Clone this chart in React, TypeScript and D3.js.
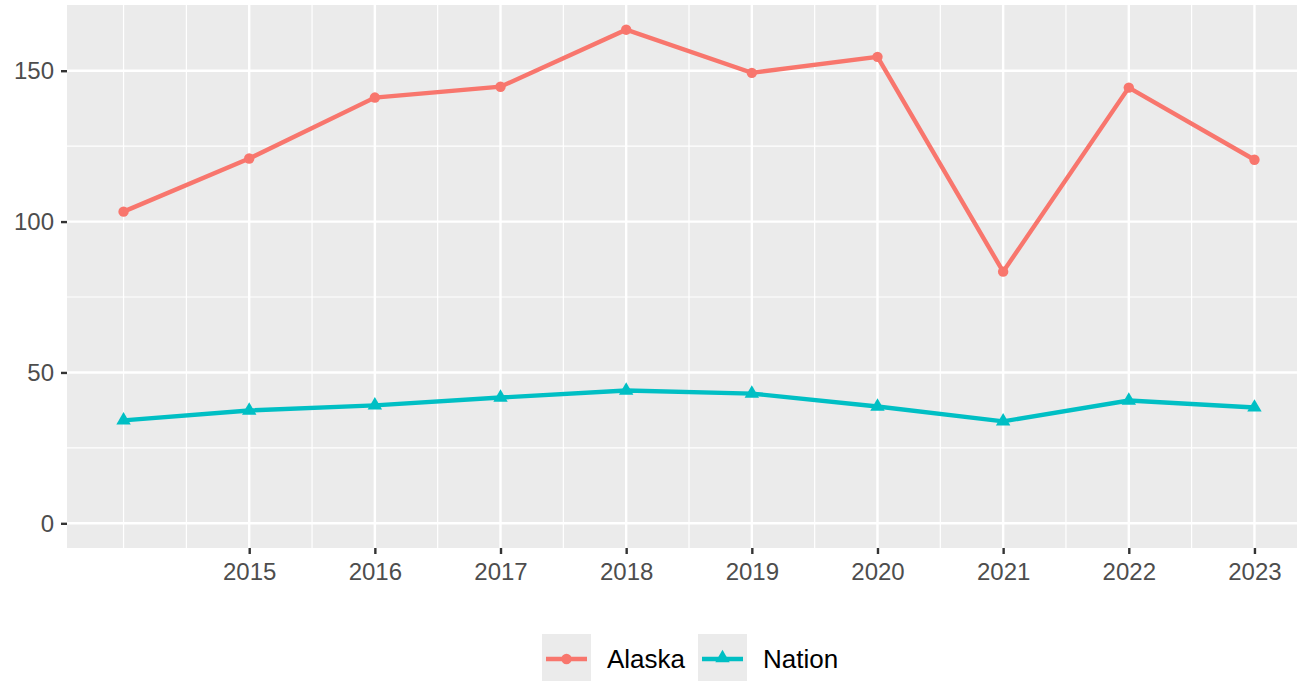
import * as d3 from "d3";
import React from "react";

const years = [2014, 2015, 2016, 2017, 2018, 2019, 2020, 2021, 2022, 2023];
const alaska = [103.3, 120.9, 141.1, 144.7, 163.6, 149.3, 154.6, 83.4, 144.4, 120.5];
const nation = [34.1, 37.4, 39.1, 41.7, 44.0, 43.0, 38.7, 33.8, 40.7, 38.4];
const xTicks = [2015, 2016, 2017, 2018, 2019, 2020, 2021, 2022, 2023];
const yTicks = [0, 50, 100, 150];
const seriesNames = ["Alaska", "Nation"];

const FONT = "'Liberation Sans', Arial, sans-serif";

const App = (): React.ReactElement => {
  const chartRef = React.useRef<SVGSVGElement>(null);

  const width = 1297;
  const height = 681;
  const panel = { left: 67, top: 5, right: 1311, bottom: 548 };

  React.useEffect(() => {
    const svg = d3.select(chartRef.current);
    svg.selectAll("*").remove();

    // ggplot-style expanded scales
    const xScale = d3
      .scaleLinear()
      .domain([2014 - 0.45, 2023 + 0.45])
      .range([panel.left, panel.right]);
    const yMax = d3.max(alaska) as number;
    const yScale = d3
      .scaleLinear()
      .domain([0 - yMax * 0.05, yMax * 1.05])
      .range([panel.bottom, panel.top]);

    svg
      .append("rect")
      .attr("x", panel.left)
      .attr("y", panel.top)
      .attr("width", panel.right - panel.left)
      .attr("height", panel.bottom - panel.top)
      .attr("fill", "#EBEBEB");

    const grid = svg.append("g");

    // minor grid
    const xMinor = d3.range(2013.5, 2024, 0.5).filter((v) => !xTicks.includes(v));
    const yMinor = [25, 75, 125];
    grid
      .selectAll("line.xminor")
      .data(xMinor)
      .join("line")
      .attr("x1", (d) => xScale(d))
      .attr("x2", (d) => xScale(d))
      .attr("y1", panel.top)
      .attr("y2", panel.bottom)
      .attr("stroke", "white")
      .attr("stroke-width", 1.2);
    grid
      .selectAll("line.yminor")
      .data(yMinor)
      .join("line")
      .attr("x1", panel.left)
      .attr("x2", panel.right)
      .attr("y1", (d) => yScale(d))
      .attr("y2", (d) => yScale(d))
      .attr("stroke", "white")
      .attr("stroke-width", 1.2);

    // major grid
    grid
      .selectAll("line.xmajor")
      .data(xTicks)
      .join("line")
      .attr("x1", (d) => xScale(d))
      .attr("x2", (d) => xScale(d))
      .attr("y1", panel.top)
      .attr("y2", panel.bottom)
      .attr("stroke", "white")
      .attr("stroke-width", 2.4);
    grid
      .selectAll("line.ymajor")
      .data(yTicks)
      .join("line")
      .attr("x1", panel.left)
      .attr("x2", panel.right)
      .attr("y1", (d) => yScale(d))
      .attr("y2", (d) => yScale(d))
      .attr("stroke", "white")
      .attr("stroke-width", 2.4);

    // axes
    const xAxis = svg
      .append("g")
      .attr("transform", `translate(0, ${panel.bottom})`)
      .call(
        d3
          .axisBottom(xScale)
          .tickValues(xTicks)
          .tickFormat(d3.format("d"))
          .tickSize(6)
          .tickPadding(9)
      );
    xAxis.select(".domain").remove();
    xAxis.selectAll(".tick line").attr("stroke", "#333333").attr("stroke-width", 2.4);
    xAxis
      .selectAll(".tick text")
      .attr("fill", "#4D4D4D")
      .attr("font-family", FONT)
      .attr("font-size", 24);

    const yAxis = svg
      .append("g")
      .attr("transform", `translate(${panel.left}, 0)`)
      .call(d3.axisLeft(yScale).tickValues(yTicks).tickSize(6).tickPadding(7));
    yAxis.select(".domain").remove();
    yAxis.selectAll(".tick line").attr("stroke", "#333333").attr("stroke-width", 2.4);
    yAxis
      .selectAll(".tick text")
      .attr("fill", "#4D4D4D")
      .attr("font-family", FONT)
      .attr("font-size", 24);

    const colors = d3.scaleOrdinal<string, string>().domain(seriesNames).range(["#F8766D", "#00BFC4"]);
    const line = d3
      .line<number>()
      .x((_, i) => xScale(years[i]))
      .y((d) => yScale(d));

    svg
      .append("defs")
      .append("clipPath")
      .attr("id", "panel-clip")
      .append("rect")
      .attr("x", panel.left)
      .attr("y", panel.top)
      .attr("width", panel.right - panel.left)
      .attr("height", panel.bottom - panel.top);

    const plot = svg.append("g").attr("clip-path", "url(#panel-clip)");
    const triangle = d3.symbol().type(d3.symbolTriangle).size(90);

    [alaska, nation].forEach((vals, si) => {
      const c = colors(seriesNames[si]);
      plot
        .append("path")
        .datum(vals)
        .attr("fill", "none")
        .attr("stroke", c)
        .attr("stroke-width", 4.4)
        .attr("d", line);
      if (si === 0) {
        plot
          .selectAll("circle.pt")
          .data(vals)
          .join("circle")
          .attr("cx", (_, i) => xScale(years[i]))
          .attr("cy", (d) => yScale(d))
          .attr("r", 5.2)
          .attr("fill", c);
      } else {
        plot
          .selectAll("path.tri")
          .data(vals)
          .join("path")
          .attr("class", "tri")
          .attr("transform", (d, i) => `translate(${xScale(years[i])}, ${yScale(d)})`)
          .attr("d", triangle)
          .attr("fill", c);
      }
    });

    // legend
    const legend = svg.append("g").attr("transform", "translate(542, 634)");
    const keyOffsets = [0, 156];
    seriesNames.forEach((name, i) => {
      const g = legend.append("g").attr("transform", `translate(${keyOffsets[i]}, 0)`);
      g.append("rect").attr("width", 49).attr("height", 47).attr("fill", "#EBEBEB");
      g.append("line")
        .attr("x1", 4)
        .attr("x2", 45)
        .attr("y1", 25)
        .attr("y2", 25)
        .attr("stroke", colors(name))
        .attr("stroke-width", 4.4);
      if (i === 0) {
        g.append("circle").attr("cx", 24.5).attr("cy", 25).attr("r", 5.2).attr("fill", colors(name));
      } else {
        g.append("path")
          .attr("transform", "translate(24.5, 24)")
          .attr("d", triangle)
          .attr("fill", colors(name));
      }
      g.append("text")
        .attr("x", 65)
        .attr("y", 34)
        .attr("font-family", FONT)
        .attr("font-size", 26)
        .attr("fill", "#000000")
        .text(name);
    });
  }, []);

  return (
    <div id="chartContainer">
      <svg
        ref={chartRef}
        width={width}
        height={height}
        style={{ position: "absolute", left: 0, top: 0, background: "white" }}
      ></svg>
    </div>
  );
};

export default App;
